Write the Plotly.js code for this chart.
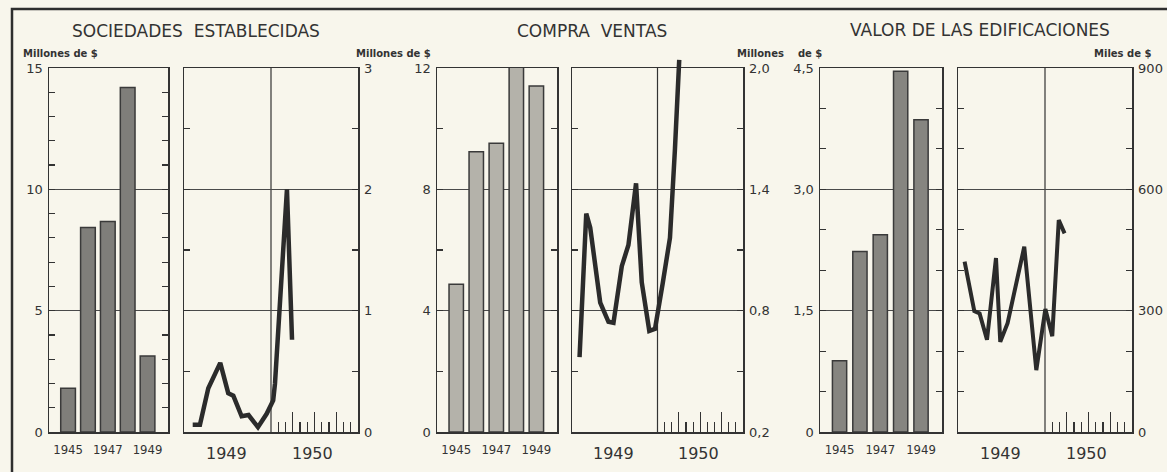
<!DOCTYPE html>
<html><head><meta charset="utf-8">
<script src="https://cdn.plot.ly/plotly-3.0.1.min.js"></script>
<style>html,body{margin:0;padding:0;background:#f8f6ec}</style>
</head><body>
<div id="chart" style="width:1167px;height:472px"></div>
<script>
// ---- data ----
const years = ['1945', '1946', '1947', '1948', '1949'];
const yearTicks = ['1945', '1947', '1949'];
const sociedadesAnual = [1.8, 8.43, 8.67, 14.2, 3.13];
const compraAnual = [4.87, 9.24, 9.52, 12.21, 11.41];
const valorAnual = [0.88, 2.23, 2.44, 4.46, 3.86];

// monthly series: x = months elapsed since start of 1949
const sociedadesMesX = [1.2, 2.2, 3.35, 5.0, 6.1, 6.8, 7.95, 8.9, 10.2, 11.4, 12.3, 12.55, 14.2, 14.9];
const sociedadesMesY = [0.06, 0.06, 0.36, 0.57, 0.32, 0.30, 0.13, 0.14, 0.04, 0.15, 0.26, 0.40, 2.0, 0.76];
const compraMesX = [1.06, 2.0, 2.56, 3.96, 5.12, 5.82, 6.99, 7.92, 8.99, 9.79, 10.85, 11.65, 12.73, 13.75, 14.45, 15.05];
const compraMesY = [0.57, 1.28, 1.21, 0.84, 0.745, 0.74, 1.02, 1.125, 1.43, 0.94, 0.70, 0.71, 0.935, 1.16, 1.6, 2.04];
const valorMesX = [0.91, 2.25, 2.98, 4.0, 5.24, 5.83, 6.84, 9.14, 10.8, 12.05, 13.0, 13.9, 14.7];
const valorMesY = [421, 299, 293, 228, 430, 223, 269, 458, 153, 304, 237, 524, 491];

const periodLabels = ['1949', '1950'];
const periodCenters = [5.8, 17.7];
const yearBoundary = 12;
const monthShortTicks = [13, 14, 16, 17, 19, 20, 22, 23];
const monthQuarterTicks = [15, 18, 21];

const sociedadesTicks = [0, 5, 10, 15];
const sociedadesTickText = ['0', '5', '10', '15'];
const sociedadesMesTicks = [0, 1, 2, 3];
const sociedadesMesTickText = ['0', '1', '2', '3'];
const compraTicks = [0, 4, 8, 12];
const compraTickText = ['0', '4', '8', '12'];
const compraMesTicks = [0.2, 0.8, 1.4, 2.0];
const compraMesTickText = ['0,2', '0,8', '1,4', '2,0'];
const valorTicks = [0, 1.5, 3.0, 4.5];
const valorTickText = ['0', '1,5', '3,0', '4,5'];
const valorMesTicks = [0, 300, 600, 900];
const valorMesTickText = ['0', '300', '600', '900'];

// ---- layout helpers ----
const W = 1167, H = 472;
const px = v => v / W;
const py = v => 1 - v / H;
const BG = '#f8f6ec';
const INK = '#333333';
const FONT = 'DejaVu Sans, Verdana, sans-serif';
const CFONT = 'DejaVu Sans Condensed, Liberation Sans Narrow, DejaVu Sans, sans-serif';
const yDom = [py(432), py(68)];

function barX(l, r) {
  return {
    domain: [px(l), px(r)], type: 'category', range: [-0.96, 5.03],
    tickmode: 'array', tickvals: yearTicks, ticks: '', showgrid: false,
    showline: true, mirror: true, linecolor: INK, linewidth: 1.5,
    tickfont: {family: CFONT, size: 13, color: INK}, ticklabelstandoff: 5,
    zeroline: false, fixedrange: true
  };
}
function lineX(l, r) {
  return {
    domain: [px(l), px(r)], range: [0, 24], tickmode: 'array',
    tickvals: monthQuarterTicks, showticklabels: false,
    ticks: 'inside', ticklen: 20, tickwidth: 1.2, tickcolor: INK,
    minor: {tickmode: 'array', tickvals: monthShortTicks, ticks: 'inside', ticklen: 10, tickwidth: 1.2, tickcolor: INK, showgrid: false},
    showgrid: false, showline: true, mirror: true, linecolor: INK, linewidth: 1.5,
    zeroline: false, fixedrange: true
  };
}
function yAx(range, vals, text, minorDtick, side) {
  return {
    domain: yDom, range: range, side: side, tickmode: 'array', tickvals: vals, ticktext: text,
    ticks: 'inside', ticklen: 6, tickwidth: 1.2, tickcolor: INK,
    showgrid: true, gridcolor: '#4a4a4a', gridwidth: 1,
    minor: {dtick: minorDtick, tick0: range[0], ticks: 'inside', ticklen: 6, tickwidth: 1.2, tickcolor: INK, showgrid: false},
    showline: true, mirror: 'allticks', linecolor: INK, linewidth: 1.5,
    tickfont: {family: FONT, size: 13, color: INK}, ticklabelstandoff: 2,
    zeroline: false, fixedrange: true
  };
}

const barLine = {color: '#3a3a3a', width: 1.5};
const traces = [
  {type: 'bar', x: years, y: sociedadesAnual, xaxis: 'x', yaxis: 'y', width: 0.74,
   marker: {color: '#7f7e7a', line: barLine}, cliponaxis: false},
  {type: 'scatter', mode: 'lines', x: sociedadesMesX, y: sociedadesMesY, xaxis: 'x2', yaxis: 'y2',
   line: {color: '#2b2b2b', width: 4.5}, cliponaxis: false},
  {type: 'bar', x: years, y: compraAnual, xaxis: 'x3', yaxis: 'y3', width: 0.72,
   marker: {color: '#b4b2aa', line: barLine}, cliponaxis: false},
  // empty trace that keeps the visible 0,2–2,0 panel registered
  {type: 'scatter', mode: 'lines', x: [], y: [], xaxis: 'x4', yaxis: 'y4', hoverinfo: 'skip'},
  // drawn on a hidden copy of the 0,2–2,0 scale that extends a little above the frame
  {type: 'scatter', mode: 'lines', x: compraMesX, y: compraMesY, xaxis: 'x4', yaxis: 'y7',
   line: {color: '#2b2b2b', width: 4.5}, cliponaxis: false},
  {type: 'bar', x: years, y: valorAnual, xaxis: 'x5', yaxis: 'y5', width: 0.7,
   marker: {color: '#868580', line: barLine}, cliponaxis: false},
  {type: 'scatter', mode: 'lines', x: valorMesX, y: valorMesY, xaxis: 'x6', yaxis: 'y6',
   line: {color: '#2b2b2b', width: 4}, cliponaxis: false}
];

const ann = [];
function txt(t, x, y, size, opts) {
  ann.push(Object.assign({text: t, x: x, y: y, xref: 'paper', yref: 'paper', showarrow: false,
    xanchor: 'center', yanchor: 'middle', font: {family: FONT, size: size, color: INK}}, opts || {}));
}
txt('SOCIEDADES  ESTABLECIDAS', px(196), py(31), 17);
txt('COMPRA  VENTAS', px(592), py(31), 17);
txt('VALOR DE LAS EDIFICACIONES', px(980), py(30), 17);
txt('<b>Millones de $</b>', px(60), py(53), 10);
txt('<b>Millones de $</b>', px(393), py(53), 10);
txt('<b>Millones    de $</b>', px(779), py(53), 10);
txt('<b>Miles de $</b>', px(1122), py(53), 10);
['x2', 'x4', 'x6'].forEach(xa => {
  periodLabels.forEach((lab, i) => {
    ann.push({text: lab, x: periodCenters[i], y: py(453), xref: xa, yref: 'paper', showarrow: false,
      xanchor: 'center', yanchor: 'middle', font: {family: FONT, size: 16, color: INK}});
  });
});

const shapes = [
  {type: 'rect', xref: 'paper', yref: 'paper', x0: px(12), x1: 1.1, y0: -0.1, y1: py(9),
   line: {color: '#2e2e2e', width: 2.5}, layer: 'below'}
];
[['x2', 'y2'], ['x4', 'y4'], ['x6', 'y6']].forEach(([xa, ya]) => {
  shapes.push({type: 'line', xref: xa, yref: ya + ' domain', x0: yearBoundary, x1: yearBoundary, y0: 0, y1: 1,
    line: {color: INK, width: 1.2}, layer: 'below'});
});

// hidden scale for compra monthly line: same px per unit as yaxis4, domain top raised to 50px
const y7Top = 50;
const y7Max = 0.2 + (2.0 - 0.2) * (432 - y7Top) / (432 - 68);

const layout = {
  width: W, height: H, margin: {l: 0, r: 0, t: 0, b: 0},
  paper_bgcolor: BG, plot_bgcolor: 'rgba(0,0,0,0)', showlegend: false,
  xaxis: Object.assign(barX(49, 168), {anchor: 'y'}),
  yaxis: Object.assign(yAx([0, 15], sociedadesTicks, sociedadesTickText, 1, 'left'), {anchor: 'x'}),
  xaxis2: Object.assign(lineX(184, 358), {anchor: 'y2'}),
  yaxis2: Object.assign(yAx([0, 3], sociedadesMesTicks, sociedadesMesTickText, 0.5, 'right'), {anchor: 'x2'}),
  xaxis3: Object.assign(barX(437, 557), {anchor: 'y3'}),
  yaxis3: Object.assign(yAx([0, 12], compraTicks, compraTickText, 2, 'left'), {anchor: 'x3'}),
  xaxis4: Object.assign(lineX(572, 743), {anchor: 'y4'}),
  yaxis4: Object.assign(yAx([0.2, 2.0], compraMesTicks, compraMesTickText, 0.3, 'right'), {anchor: 'x4'}),
  xaxis5: Object.assign(barX(820, 942), {anchor: 'y5'}),
  yaxis5: Object.assign(yAx([0, 4.5], valorTicks, valorTickText, 0.5, 'left'), {anchor: 'x5'}),
  xaxis6: Object.assign(lineX(958, 1132), {anchor: 'y6'}),
  yaxis6: Object.assign(yAx([0, 900], valorMesTicks, valorMesTickText, 100, 'right'), {anchor: 'x6'}),
  yaxis7: {domain: [py(432), py(y7Top)], range: [0.2, y7Max], anchor: 'x4', visible: false,
           showgrid: false, zeroline: false, fixedrange: true},
  annotations: ann, shapes: shapes
};

Plotly.newPlot('chart', traces, layout, {displayModeBar: false, staticPlot: true});
</script>
</body></html>
